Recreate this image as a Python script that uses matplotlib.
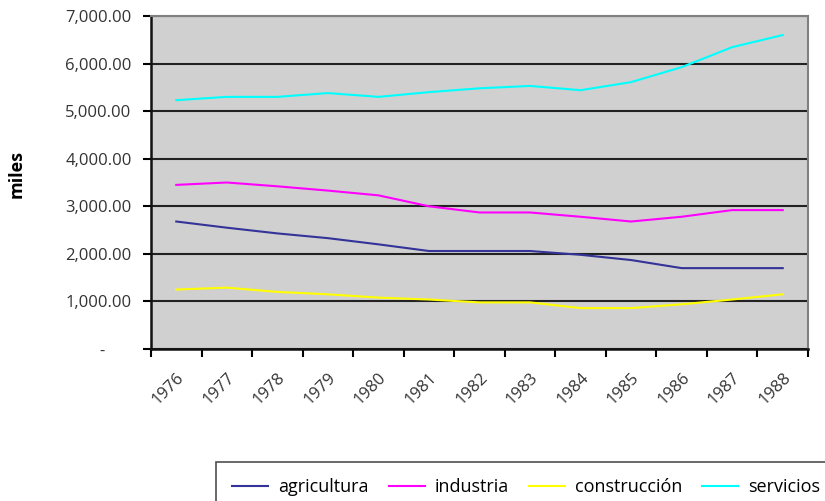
import matplotlib
matplotlib.use("Agg")
import matplotlib.pyplot as plt
from matplotlib.ticker import FuncFormatter, FixedLocator

years = ["1976", "1977", "1978", "1979", "1980", "1981", "1982",
         "1983", "1984", "1985", "1986", "1987", "1988"]
agricultura = [2680, 2550, 2430, 2330, 2200, 2060, 2060, 2060, 1980, 1870, 1700, 1700, 1700]
industria = [3450, 3500, 3420, 3330, 3230, 3000, 2870, 2870, 2780, 2680, 2780, 2920, 2920]
construccion = [1250, 1290, 1200, 1150, 1080, 1040, 980, 980, 860, 860, 940, 1040, 1150]
servicios = [5230, 5300, 5300, 5380, 5300, 5400, 5480, 5530, 5440, 5610, 5925, 6345, 6600]

plt.rcParams['font.family'] = ['Open Sans', 'DejaVu Sans']

fig = plt.figure(figsize=(8.25, 5.01), dpi=100)
ax = fig.add_axes([151/825, 1-349/501, (808-151)/825, (349-16)/501])
ax.set_facecolor('#d0d0d0')

x = list(range(len(years)))
ax.plot(x, agricultura, color='#333399', lw=1.5, label='agricultura', zorder=3)
ax.plot(x, industria, color='#ff00ff', lw=1.5, label='industria', zorder=3)
ax.plot(x, construccion, color='#ffff00', lw=1.5, label='construcción', zorder=3)
ax.plot(x, servicios, color='#00ffff', lw=1.5, label='servicios', zorder=3)

ax.set_xlim(-0.5, len(years) - 0.5)
ax.set_ylim(0, 7000)
ax.set_yticks(range(0, 7001, 1000))
ax.yaxis.set_major_formatter(FuncFormatter(lambda v, p: '-      ' if v == 0 else f"{v:,.2f}"))
ax.grid(axis='y', color='#222222', lw=1.5, zorder=1)
ax.set_axisbelow(True)

ax.xaxis.set_major_locator(FixedLocator([i - 0.5 for i in range(len(years) + 1)]))
ax.xaxis.set_major_formatter(FuncFormatter(lambda v, p: ''))
ax.xaxis.set_minor_locator(FixedLocator(x))
ax.set_xticklabels(years, minor=True, rotation=45, ha='right', rotation_mode='anchor', fontsize=12, color='#333333')
ax.tick_params(axis='x', which='minor', length=0, pad=15)
ax.tick_params(axis='x', which='major', length=6, width=1.5, direction='out')
ax.tick_params(axis='y', length=6, width=1.5, direction='out', labelsize=12, labelcolor='#333333', pad=8)

for s in ['left', 'bottom']:
    ax.spines[s].set_color('#111111')
    ax.spines[s].set_linewidth(1.8)
for s in ['top', 'right']:
    ax.spines[s].set_color('#808080')
    ax.spines[s].set_linewidth(1.5)

fig.text(17/825, 1-174/501, 'miles', rotation=90, ha='center', va='center', fontsize=13, fontweight='bold')

leg = fig.legend(loc='upper left', bbox_to_anchor=(216/825, 1-462/501), ncol=4, fontsize=13,
                 frameon=True, fancybox=False, edgecolor='#222222', handlelength=2.0,
                 columnspacing=1.1, handletextpad=0.55, borderpad=0.9, borderaxespad=0)
leg.get_frame().set_linewidth(1.2)

fig.savefig('out.png', dpi=100)
